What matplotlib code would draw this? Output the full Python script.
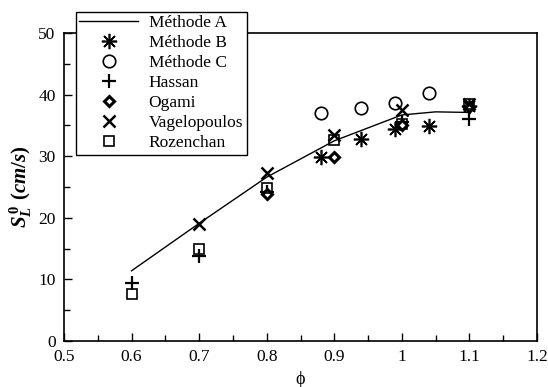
import matplotlib
matplotlib.use("Agg")
import matplotlib.pyplot as plt
from matplotlib.ticker import MultipleLocator, FuncFormatter

plt.rcParams['font.family'] = ['Liberation Serif', 'DejaVu Serif']
plt.rcParams['mathtext.fontset'] = 'custom'
plt.rcParams['mathtext.it'] = 'Liberation Serif:italic:bold'
plt.rcParams['mathtext.rm'] = 'Liberation Serif:bold'

# Data
phi_A = [0.6, 0.7, 0.8, 0.9, 1.0, 1.05, 1.1]
SL_A = [11.4, 19.1, 26.6, 32.5, 36.7, 37.2, 37.1]

phi_B = [0.88, 0.94, 0.99, 1.04, 1.1]
SL_B = [29.8, 32.8, 34.4, 34.9, 38.2]

phi_C = [0.88, 0.94, 0.99, 1.04]
SL_C = [37.0, 37.8, 38.7, 40.3]

phi_hassan = [0.6, 0.7, 0.8, 1.0, 1.1]
SL_hassan = [9.4, 13.8, 24.2, 35.5, 36.0]

phi_ogami = [0.8, 0.9, 1.0, 1.1]
SL_ogami = [23.8, 29.9, 35.0, 38.0]

phi_vagel = [0.7, 0.8, 0.9, 1.0, 1.1]
SL_vagel = [19.0, 27.2, 33.4, 37.5, 38.4]

phi_rozen = [0.6, 0.7, 0.8, 0.9, 1.0, 1.1]
SL_rozen = [7.6, 15.0, 24.8, 32.7, 35.2, 38.5]

fig = plt.figure(figsize=(5.48, 3.87), dpi=100)
ax = fig.add_axes([0.1168, 0.1189, 0.98 - 0.1168, 0.9147 - 0.1189])

ax.plot(phi_A, SL_A, color='black', lw=1.0, label='Méthode A')
ax.plot(phi_B, SL_B, ls='none', marker=(8, 2, 0), ms=11, mec='black', mew=1.2,
        color='black', label='Méthode B')
ax.plot(phi_C, SL_C, ls='none', marker='o', ms=9, mfc='none', mec='black', mew=1.2,
        label='Méthode C')
ax.plot(phi_hassan, SL_hassan, ls='none', marker='+', ms=10, mec='black', mew=1.6,
        label='Hassan')
ax.plot(phi_ogami, SL_ogami, ls='none', marker='D', ms=5, mfc='white', mec='black', mew=2.2,
        label='Ogami')
ax.plot(phi_vagel, SL_vagel, ls='none', marker='x', ms=8, mec='black', mew=1.8,
        label='Vagelopoulos')
ax.plot(phi_rozen, SL_rozen, ls='none', marker='s', ms=7, mfc='none', mec='black', mew=1.2,
        label='Rozenchan')

ax.set_xlim(0.5, 1.2)
ax.set_ylim(0, 50)
ax.xaxis.set_major_locator(MultipleLocator(0.1))
ax.xaxis.set_minor_locator(MultipleLocator(0.05))
ax.yaxis.set_major_locator(MultipleLocator(10))
ax.yaxis.set_minor_locator(MultipleLocator(5))
ax.xaxis.set_major_formatter(FuncFormatter(lambda v, p: '%g' % round(v, 2)))
ax.tick_params(which='both', direction='in', top=False, right=False, labelsize=12.5,
               width=1.0, color='black')
ax.tick_params(which='major', length=6, pad=6)
ax.tick_params(which='minor', length=4)
for s in ax.spines.values():
    s.set_linewidth(1.2)

ax.set_xlabel('ϕ', fontsize=13, labelpad=4)
ax.set_ylabel(r'$S_L^{\,0}\ (cm/s)$', fontsize=15, labelpad=3)

leg = fig.legend(loc='upper left', bbox_to_anchor=(0.138, 0.970), fontsize=12.5,
                 frameon=True, fancybox=False, edgecolor='black', framealpha=1,
                 handlelength=3.4, handletextpad=0.6, labelspacing=0.22,
                 borderpad=0.2, borderaxespad=0)
leg.get_frame().set_linewidth(1.0)

fig.savefig('out.png', dpi=100)
